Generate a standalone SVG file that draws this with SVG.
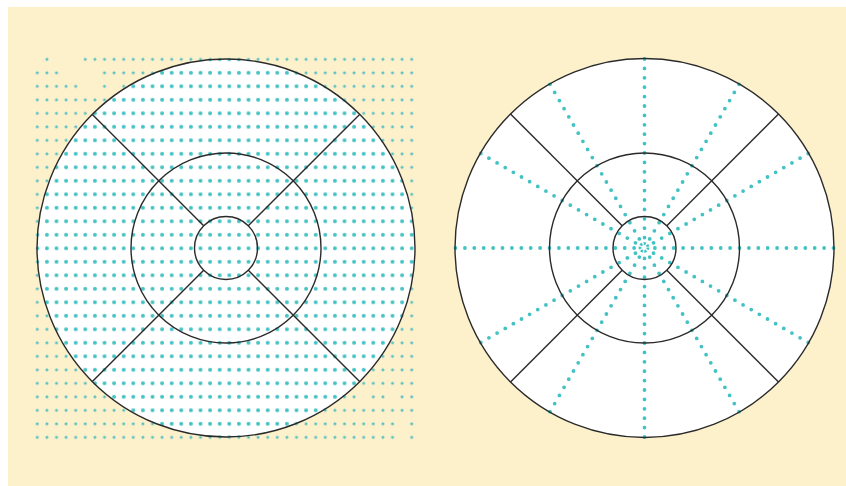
<svg xmlns="http://www.w3.org/2000/svg" width="846" height="486" viewBox="0 0 846 486">
  <style>
    .ring { fill: none; stroke: #2a2a2a; stroke-width: 1.4; }
    .spoke { stroke: #2a2a2a; stroke-width: 1.4; }
    .ray { stroke: #43C2C4; stroke-width: 3.8; stroke-linecap: round; stroke-dasharray: 0 9.4; fill: none; }
    .gap { fill: #FDF1CC; }
  </style>
  <defs>
    <pattern id="dotsOut" patternUnits="userSpaceOnUse" x="32.5" y="52.55" width="9.6" height="13.5">
      <circle cx="4.8" cy="6.75" r="1.5" fill="#55BFC2"/>
    </pattern>
    <pattern id="dotsIn" patternUnits="userSpaceOnUse" x="32.5" y="52.55" width="9.6" height="13.5">
      <circle cx="4.8" cy="6.75" r="2" fill="#43C2C4"/>
    </pattern>
    <clipPath id="leftClip">
      <circle cx="226" cy="248" r="189"/>
    </clipPath>
  </defs>

  <rect x="0" y="0" width="846" height="486" fill="#ffffff"/>
  <rect x="8" y="7" width="838" height="479" fill="#FDF1CC"/>

  <g id="left-target">
    <rect x="32.5" y="52.55" width="384" height="391.5" fill="url(#dotsOut)"/>
    <g id="missing-dots">
      <circle class="gap" cx="37.3" cy="59.3" r="2.6"/>
      <circle class="gap" cx="56.5" cy="59.3" r="2.6"/>
      <circle class="gap" cx="66.1" cy="59.3" r="2.6"/>
      <circle class="gap" cx="75.7" cy="59.3" r="2.6"/>
      <circle class="gap" cx="66.1" cy="72.8" r="2.6"/>
      <circle class="gap" cx="75.7" cy="72.8" r="2.6"/>
      <circle class="gap" cx="85.3" cy="72.8" r="2.6"/>
      <circle class="gap" cx="94.9" cy="72.8" r="2.6"/>
      <circle class="gap" cx="85.3" cy="86.3" r="2.6"/>
      <circle class="gap" cx="94.9" cy="86.3" r="2.6"/>
      <circle class="gap" cx="114.1" cy="86.3" r="2.6"/>
      <circle class="gap" cx="363.7" cy="396.8" r="2.6"/>
      <circle class="gap" cx="392.5" cy="396.8" r="2.6"/>
      <circle class="gap" cx="402.1" cy="423.8" r="2.6"/>
      <circle class="gap" cx="402.1" cy="437.3" r="2.6"/>
    </g>
    <circle cx="226" cy="248" r="189" fill="#ffffff"/>
    <rect x="32.5" y="52.55" width="384" height="391.5" fill="url(#dotsIn)" clip-path="url(#leftClip)"/>
    <circle class="ring" cx="226" cy="248" r="189"/>
    <circle class="ring" cx="226" cy="248" r="95"/>
    <circle class="ring" cx="226" cy="248" r="31.5"/>
    <g id="left-spokes">
      <line class="spoke" x1="203.7" y1="225.7" x2="92.4" y2="114.4"/>
      <line class="spoke" x1="248.3" y1="225.7" x2="359.6" y2="114.4"/>
      <line class="spoke" x1="203.7" y1="270.3" x2="92.4" y2="381.6"/>
      <line class="spoke" x1="248.3" y1="270.3" x2="359.6" y2="381.6"/>
    </g>
  </g>

  <g id="right-target">
    <circle cx="644.5" cy="248" r="189.5" fill="#ffffff"/>
    <g id="rays">
      <line class="ray" x1="644.5" y1="59" x2="644.5" y2="238"/>
      <line class="ray" x1="739" y1="84.3" x2="649.5" y2="239.3"/>
      <line class="ray" x1="808.2" y1="153.5" x2="653.2" y2="243"/>
      <line class="ray" x1="833.5" y1="248" x2="654.5" y2="248"/>
      <line class="ray" x1="808.2" y1="342.5" x2="653.2" y2="253"/>
      <line class="ray" x1="739" y1="411.7" x2="649.5" y2="256.7"/>
      <line class="ray" x1="644.5" y1="437" x2="644.5" y2="258"/>
      <line class="ray" x1="550" y1="411.7" x2="639.5" y2="256.7"/>
      <line class="ray" x1="480.8" y1="342.5" x2="635.8" y2="253"/>
      <line class="ray" x1="455.5" y1="248" x2="634.5" y2="248"/>
      <line class="ray" x1="480.8" y1="153.5" x2="635.8" y2="243"/>
      <line class="ray" x1="550" y1="84.3" x2="639.5" y2="239.3"/>
      <circle cx="644" cy="247.5" r="4" fill="none" stroke="#43C2C4" stroke-width="2.8" stroke-dasharray="2.2 1.4"/>
    </g>
    <circle class="ring" cx="644.5" cy="248" r="189.5"/>
    <circle class="ring" cx="644.5" cy="248" r="95"/>
    <circle class="ring" cx="644.5" cy="248" r="31.5"/>
    <g id="right-spokes">
      <line class="spoke" x1="622.2" y1="225.7" x2="510.5" y2="114"/>
      <line class="spoke" x1="666.8" y1="225.7" x2="778.5" y2="114"/>
      <line class="spoke" x1="622.2" y1="270.3" x2="510.5" y2="382"/>
      <line class="spoke" x1="666.8" y1="270.3" x2="778.5" y2="382"/>
    </g>
  </g>
</svg>
